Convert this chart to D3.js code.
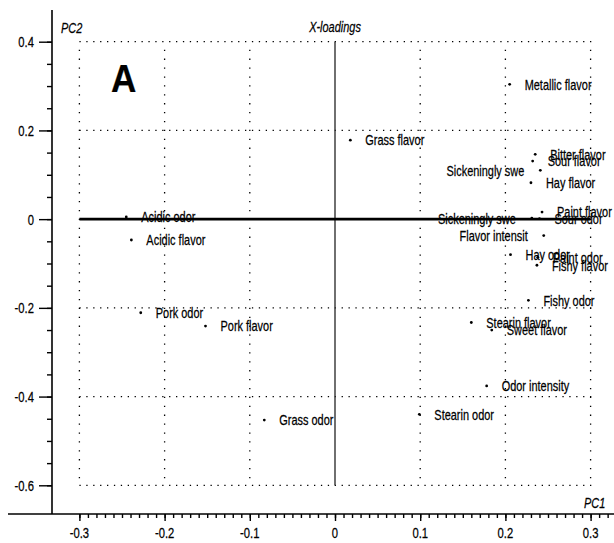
<!DOCTYPE html>
<html>
<head>
<meta charset="utf-8">
<script src="https://cdn.jsdelivr.net/npm/d3@7"></script>
<style>
    body { margin: 0; background: #fff; }
    text { font-family: "Liberation Sans", Arial, sans-serif; fill: #000; stroke: #000; stroke-width: 0.25px; }
</style>
</head>
<body>
<div id="chart"></div>
<script>

// X-loadings (PC1 / PC2)
const names = ["Metallic flavor", "Grass flavor", "Bitter flavor", "Sour flavor", "Sickeningly swe",
    "Hay flavor", "Paint flavor", "Sour odor", "Sickeningly swe", "Flavor intensit", "Hay odor",
    "Paint odor", "Fishy flavor", "Fishy odor", "Stearin flavor", "Sweet flavor", "Odor intensity",
    "Stearin odor", "Grass odor", "Acidic odor", "Acidic flavor", "Pork odor", "Pork flavor"];
const pc1 = [0.205, 0.018, 0.235, 0.232, 0.241, 0.230, 0.243, 0.240, 0.231, 0.245, 0.206,
    0.238, 0.237, 0.227, 0.160, 0.184, 0.178, 0.099, -0.083, -0.245, -0.239, -0.228, -0.152];
const pc2 = [0.304, 0.178, 0.146, 0.131, 0.110, 0.082, 0.016, 0.001, 0.002, -0.037, -0.080,
    -0.086, -0.104, -0.183, -0.233, -0.250, -0.376, -0.440, -0.453, 0.005, -0.047, -0.211, -0.241];

const xTicks = [-0.3, -0.2, -0.1, 0, 0.1, 0.2, 0.3];
const xTickLabels = ["-0.3", "-0.2", "-0.1", "0", "0.1", "0.2", "0.3"];
const yTicks = [-0.6, -0.4, -0.2, 0, 0.2, 0.4];
const yTickLabels = ["-0.6", "-0.4", "-0.2", "0", "0.2", "0.4"];

const width = 614, height = 543;
const narrow = 0.73;   // squeeze text horizontally like the original

const svg = d3.select("#chart").append("svg")
    .attr("width", width)
    .attr("height", height);

const x = d3.scaleLinear().domain([-0.3, 0.3]).range([79.4, 590.6]);
const y = d3.scaleLinear().domain([-0.6, 0.4]).range([485.3, 41.7]);

const axisX = 52, axisY = 514;

// squeezed text helper
function label(g, px, py, txt, opts) {
    opts = opts || {};
    let sx = opts.sx || narrow;
    let grp = g.append("g")
        .attr("transform", "translate(" + px + "," + py + ") scale(" + sx + ",1)");
    let t = grp.append("text")
        .attr("text-anchor", opts.anchor || "start")
        .attr("dy", opts.dy || "0")
        .style("font-size", (opts.size || 15) + "px")
        .style("font-style", opts.italic ? "italic" : "normal")
        .style("font-weight", opts.bold ? "bold" : "normal")
        .text(txt);
    return {grp: grp, t: t, sx: sx};
}

// dotted grid
const grid = svg.append("g");
grid.selectAll(".hgrid")
    .data(yTicks.filter(d => d !== 0))
    .enter().append("line")
    .attr("x1", x(-0.3)).attr("x2", x(0.3) + 2)
    .attr("y1", d => y(d)).attr("y2", d => y(d))
    .attr("stroke", "#000")
    .attr("stroke-width", 1.3)
    .attr("stroke-dasharray", "1.3,5.6");
grid.selectAll(".vgrid")
    .data(xTicks.filter(d => d !== 0))
    .enter().append("line")
    .attr("x1", d => x(d)).attr("x2", d => x(d))
    .attr("y1", y(0.4) + 8).attr("y2", y(-0.6))
    .attr("stroke", "#000")
    .attr("stroke-width", 1.3)
    .attr("stroke-dasharray", "1.3,7.6");

// zero lines
svg.append("line")
    .attr("x1", x(0)).attr("x2", x(0))
    .attr("y1", y(0.4)).attr("y2", y(-0.6))
    .attr("stroke", "#333").attr("stroke-width", 1.4);
svg.append("line")
    .attr("x1", x(-0.3)).attr("x2", x(0.3))
    .attr("y1", y(0)).attr("y2", y(0))
    .attr("stroke", "#000").attr("stroke-width", 2.6);

// y axis
const yAxisG = svg.append("g").attr("transform", "translate(" + axisX + ",0)");
yAxisG.call(d3.axisLeft(y).tickValues(d3.range(-0.6, 0.401, 0.05)).tickSize(5).tickFormat(""));
yAxisG.call(g => g.select(".domain").remove());
const yMajor = svg.append("g").attr("transform", "translate(" + axisX + ",0)");
yMajor.call(d3.axisLeft(y).tickValues(yTicks).tickSize(13).tickFormat(""));
yMajor.select(".domain").remove();
svg.selectAll(".tick line").attr("stroke", "#000").attr("stroke-width", 1.6);
yTicks.forEach((v, i) => {
    label(svg, axisX - 18, y(v), yTickLabels[i], {anchor: "end", dy: "0.36em", size: 15, sx: 0.75});
});
svg.append("line")
    .attr("x1", axisX).attr("x2", axisX)
    .attr("y1", 10).attr("y2", axisY)
    .attr("stroke", "#000").attr("stroke-width", 1.6);

// x axis
const xMinor = svg.append("g").attr("transform", "translate(0," + axisY + ")");
xMinor.call(d3.axisBottom(x).tickValues(d3.range(-0.3, 0.3201, 0.01)).tickSize(4).tickFormat(""));
xMinor.select(".domain").remove();
const xMajor = svg.append("g").attr("transform", "translate(0," + axisY + ")");
xMajor.call(d3.axisBottom(x).tickValues(xTicks).tickSize(7).tickFormat(""));
xMajor.select(".domain").remove();
svg.selectAll(".tick line").attr("stroke", "#000").attr("stroke-width", 1.4);
xTicks.forEach((v, i) => {
    label(svg, x(v), axisY + 19, xTickLabels[i], {anchor: "middle", dy: "0.36em", size: 15, sx: 0.75});
});
svg.append("line")
    .attr("x1", 8).attr("x2", width)
    .attr("y1", axisY).attr("y2", axisY)
    .attr("stroke", "#000").attr("stroke-width", 1.6);

// titles
label(svg, 61, 33, "PC2", {italic: true, size: 15});
label(svg, x(0), 32, "X-loadings", {anchor: "middle", italic: true, size: 15});
label(svg, 584, 508, "PC1", {italic: true, size: 15});
label(svg, 111, 92, "A", {bold: true, size: 39, sx: 0.9});

// points and labels
const pts = names.map((n, i) => ({name: n, x: pc1[i], y: pc2[i]}));
svg.append("g").selectAll("circle")
    .data(pts)
    .enter().append("circle")
    .attr("cx", d => x(d.x))
    .attr("cy", d => y(d.y))
    .attr("r", 1.4)
    .attr("fill", "#000");

pts.forEach(d => {
    let px = x(d.x), py = y(d.y);
    let l = label(svg, px + 15, py, d.name, {dy: "0.35em", size: 15});
    let w = l.t.node().getComputedTextLength() * l.sx;
    // labels that would run off the page go to the left of the point
    if (px + 15 + w > width) {
        l.grp.attr("transform", "translate(" + (px - 16) + "," + py + ") scale(" + l.sx + ",1)");
        l.t.attr("text-anchor", "end");
    }
});

</script>
</body>
</html>
